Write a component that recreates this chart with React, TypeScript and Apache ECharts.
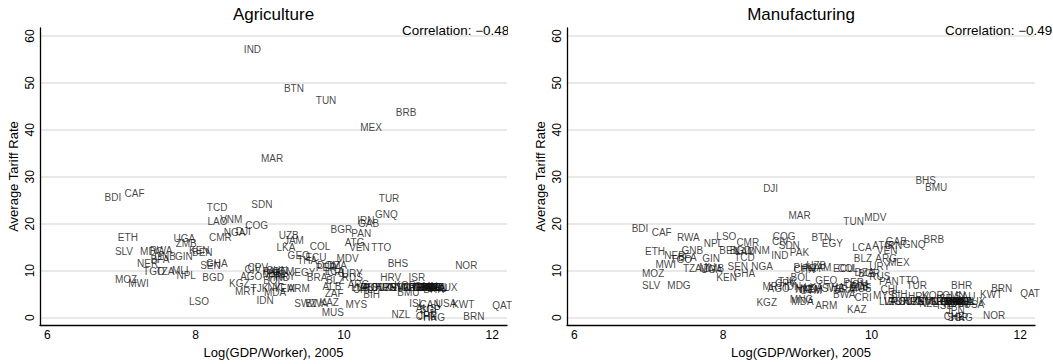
import React, { useEffect, useRef } from "react";
import * as echarts from "echarts";

// Country codes, log GDP per worker (2005) and average tariff rates
const countries = [
  "BDI", "CAF", "ETH", "SLV", "MOZ", "MWI", "MDG", "RWA", "NER", "TGO",
  "BFA", "GNB", "TZA", "UGA", "ZMB", "MLI", "GIN", "NPL", "KEN", "BEN",
  "LSO", "SEN", "GHA", "BGD", "TCD", "CMR", "LAO", "VNM", "NGA", "DJI",
  "KGZ", "MRT", "AGO", "IND", "COG", "SDN", "CIV", "CPV", "TJK", "IDN",
  "MAR", "PAK", "CHN", "BOL", "MNG", "MDA", "NIC", "HND", "YEM", "GTM",
  "ARM", "GEO", "UZB", "JAM", "LKA", "PHL", "PRY", "THA", "ECU", "EGY",
  "BTN", "SWZ", "BWA", "KAZ", "MUS", "ZAF", "ALB", "BLZ", "BRA", "COL",
  "PER", "DOM", "DZA", "CRI", "LCA", "TUN", "BGR", "MDV", "URY", "RUS",
  "ATG", "ARG", "MYS", "VEN", "PAN", "CHL", "IRN", "GAB", "MEX", "BIH",
  "TTO", "GNQ", "TUR", "HRV", "BHS", "NZL", "KOR", "BRB", "BMU", "ISR",
  "ISL", "OMN", "CHE", "AUS", "JPN", "SGP", "CAN", "HKG", "BHR", "SAU",
  "USA", "KWT", "NOR", "BRN", "QAT",
  "LVA", "LTU", "EST", "POL", "SVK", "HUN", "CZE", "PRT", "SVN", "MLT",
  "GRC", "CYP", "ESP", "GBR", "DEU", "FIN", "SWE", "DNK", "ITA", "NLD",
  "AUT", "FRA", "BEL", "IRL", "LUX",
];

const logGdpPerWorker = [
  6.75, 7.02, 6.93, 6.89, 6.89, 7.07, 7.23, 7.36, 7.19, 7.27,
  7.37, 7.42, 7.44, 7.68, 7.71, 7.66, 7.70, 7.72, 7.89, 7.93,
  7.89, 8.04, 8.12, 8.07, 8.13, 8.16, 8.14, 8.31, 8.36, 8.52,
  8.43, 8.51, 8.58, 8.63, 8.65, 8.73, 8.64, 8.68, 8.72, 8.80,
  8.86, 8.88, 8.93, 8.89, 8.88, 8.90, 8.95, 8.96, 9.03, 9.01,
  9.22, 9.22, 9.10, 9.17, 9.07, 8.93, 9.05, 9.35, 9.46, 9.31,
  9.17, 9.31, 9.46, 9.65, 9.68, 9.72, 9.69, 9.74, 9.48, 9.52,
  9.60, 9.62, 9.75, 9.75, 9.72, 9.60, 9.80, 9.88, 9.95, 9.95,
  9.99, 10.03, 10.0, 10.05, 10.08, 10.10, 10.16, 10.17, 10.20, 10.24,
  10.35, 10.40, 10.45, 10.47, 10.57, 10.62, 10.66, 10.68, 10.70, 10.85,
  10.86, 10.93, 10.95, 10.95, 10.98, 11.0, 11.0, 11.05, 11.05, 11.10,
  11.22, 11.44, 11.48, 11.59, 11.98,
  10.08, 10.15, 10.20, 10.25, 10.35, 10.40, 10.43, 10.50, 10.60, 10.70,
  10.75, 10.78, 10.85, 10.90, 10.92, 10.95, 10.97, 10.98, 11.0, 11.02,
  11.05, 11.08, 11.12, 11.15, 11.25,
];

const agricultureTariff = [
  25.6, 26.4, 17.1, 14.0, 8.2, 7.2, 14.0, 14.2, 11.6, 9.9,
  12.4, 13.1, 9.9, 16.9, 15.8, 10.1, 13.1, 8.9, 14.4, 13.9,
  3.4, 11.0, 11.6, 8.5, 23.5, 17.1, 20.5, 20.9, 18.2, 18.3,
  7.2, 5.5, 8.7, 57.1, 19.7, 24.1, 10.2, 10.6, 6.3, 3.6,
  33.8, 9.8, 10.1, 8.0, 9.2, 5.3, 6.4, 8.6, 6.3, 9.9,
  6.3, 13.3, 17.5, 16.5, 15.0, 9.4, 8.8, 12.1, 12.9, 9.6,
  48.8, 3.0, 3.0, 3.2, 1.1, 5.1, 6.6, 8.0, 8.5, 15.2,
  10.6, 11.2, 11.0, 9.6, 9.9, 46.3, 18.8, 12.5, 9.3, 8.5,
  16.1, 7.0, 2.7, 15.0, 18.0, 6.0, 20.7, 20.1, 40.6, 4.9,
  15.0, 22.0, 25.4, 8.6, 11.6, 0.6, 6.9, 43.8, 5.3, 8.5,
  2.9, 6.6, 0.2, 2.0, 0.5, 1.7, 2.8, 0.0, 6.0, 6.2,
  2.9, 2.7, 11.0, 0.2, 2.5,
  6.5, 6.5, 6.5, 6.5, 6.5, 6.5, 6.5, 6.5, 6.5, 6.5,
  6.5, 6.5, 6.5, 6.5, 6.5, 6.5, 6.5, 6.5, 6.5, 6.5,
  6.5, 6.5, 6.5, 6.5, 6.5,
];

const manufacturingTariff = [
  19.0, 18.2, 14.0, 6.8, 9.3, 11.4, 6.8, 17.1, 13.3, 12.3,
  12.9, 14.4, 10.5, 10.3, 10.5, 10.6, 12.5, 15.8, 8.5, 14.2,
  17.3, 10.8, 9.3, 14.3, 12.7, 16.1, 14.1, 14.4, 10.8, 27.5,
  3.2, 6.6, 6.1, 13.3, 17.3, 15.3, 16.3, 7.2, 7.6, 6.6,
  21.8, 13.9, 10.2, 8.5, 3.8, 3.4, 5.9, 6.2, 6.0, 5.8,
  2.5, 7.8, 11.0, 10.6, 6.5, 10.6, 10.5, 6.4, 10.4, 15.8,
  17.1, 6.3, 5.0, 1.7, 6.1, 6.4, 6.6, 12.6, 6.0, 10.4,
  7.4, 7.0, 9.6, 4.2, 15.0, 20.5, 9.5, 21.4, 10.8, 8.7,
  15.4, 12.5, 4.7, 14.2, 7.6, 6.0, 15.4, 16.3, 11.8, 5.0,
  7.9, 15.6, 6.9, 4.6, 29.2, 3.0, 4.7, 16.7, 27.7, 4.0,
  2.5, 4.8, 0.2, 3.0, 1.5, 0.0, 3.0, 0.0, 6.8, 4.5,
  2.8, 4.9, 0.4, 6.1, 5.1,
  3.4, 3.4, 3.4, 3.4, 3.4, 3.4, 3.4, 3.4, 3.4, 3.4,
  3.4, 3.4, 3.4, 3.4, 3.4, 3.4, 3.4, 3.4, 3.4, 3.4,
  3.4, 3.4, 3.4, 3.4, 3.4,
];

const panelTitles = ["Agriculture", "Manufacturing"];
const correlations = ["Correlation: \u22120.48", "Correlation: \u22120.49"];
const xAxisTitle = "Log(GDP/Worker), 2005";
const yAxisTitle = "Average Tariff Rate";

const FONT = "'Liberation Sans', Arial, Helvetica, sans-serif";

export default function App() {
  const ref = useRef<HTMLDivElement>(null);

  useEffect(() => {
    document.body.style.margin = "0";
    if (!ref.current) return;
    const chart = echarts.init(ref.current, undefined, { renderer: "svg" });

    const grids = [
      { left: 40, top: 28, width: 467, height: 300 },
      { left: 567, top: 28, width: 468, height: 300 },
    ];

    const makeX = (gi: number) => ({
      type: "value",
      gridIndex: gi,
      min: 5.9,
      max: 12.2,
      splitNumber: 3,
      name: xAxisTitle,
      nameLocation: "middle",
      nameGap: 17,
      nameTextStyle: { fontSize: 13, color: "#000", fontFamily: FONT },
      axisLine: { show: true, onZero: false, lineStyle: { color: "#000", width: 1.3 } },
      axisTick: { show: false },
      splitLine: { show: false },
      axisLabel: {
        fontSize: 12,
        color: "#000",
        fontFamily: FONT,
        margin: 4,
        showMinLabel: false,
        showMaxLabel: false,
      },
    });

    const makeY = (gi: number) => ({
      type: "value",
      gridIndex: gi,
      min: -1.6,
      max: 61.7,
      splitNumber: 6,
      name: yAxisTitle,
      nameLocation: "middle",
      nameGap: 20,
      nameTextStyle: { fontSize: 13, color: "#000", fontFamily: FONT },
      axisLine: { show: true, onZero: false, lineStyle: { color: "#000", width: 1.3 } },
      axisTick: { show: false },
      splitLine: {
        show: true,
        showMinLine: false,
        showMaxLine: false,
        lineStyle: { color: "#e2e2e2", width: 1.5 },
      },
      axisLabel: {
        fontSize: 12,
        color: "#000",
        fontFamily: FONT,
        rotate: 90,
        margin: 4,
        showMinLabel: false,
        showMaxLabel: false,
      },
    });

    const makeSeries = (gi: number, values: number[]) => ({
      type: "scatter",
      xAxisIndex: gi,
      yAxisIndex: gi,
      symbolSize: 1,
      silent: true,
      itemStyle: { color: "rgba(0,0,0,0)" },
      label: {
        show: true,
        position: "right",
        distance: 1,
        formatter: "{b}",
        fontSize: 10,
        color: "#111",
        fontFamily: FONT,
      },
      data: countries.map((c, i) => ({ name: c, value: [logGdpPerWorker[i], values[i]] })),
    });

    chart.setOption({
      animation: false,
      backgroundColor: "#fff",
      grid: grids,
      xAxis: [makeX(0), makeX(1)],
      yAxis: [makeY(0), makeY(1)],
      series: [makeSeries(0, agricultureTariff), makeSeries(1, manufacturingTariff)],
      graphic: [
        {
          type: "text",
          x: 273.5,
          y: 14,
          style: {
            text: panelTitles[0],
            fontSize: 17,
            fontFamily: FONT,
            fill: "#000",
            align: "center",
            verticalAlign: "middle",
          },
        },
        {
          type: "text",
          x: 801,
          y: 14,
          style: {
            text: panelTitles[1],
            fontSize: 17,
            fontFamily: FONT,
            fill: "#000",
            align: "center",
            verticalAlign: "middle",
          },
        },
        {
          type: "text",
          x: 402,
          y: 31,
          scaleX: 1.12,
          style: {
            text: correlations[0],
            fontSize: 12,
            fontFamily: FONT,
            fill: "#000",
            align: "left",
            verticalAlign: "middle",
          },
        },
        {
          type: "rect",
          shape: { x: 508, y: 20, width: 18, height: 20 },
          style: { fill: "#fff" },
          z: 100,
        },
        {
          type: "text",
          x: 945,
          y: 31,
          scaleX: 1.12,
          style: {
            text: correlations[1],
            fontSize: 12,
            fontFamily: FONT,
            fill: "#000",
            align: "left",
            verticalAlign: "middle",
          },
        },
      ],
    });

    return () => chart.dispose();
  }, []);

  return <div ref={ref} style={{ width: 1053, height: 364 }} />;
}
